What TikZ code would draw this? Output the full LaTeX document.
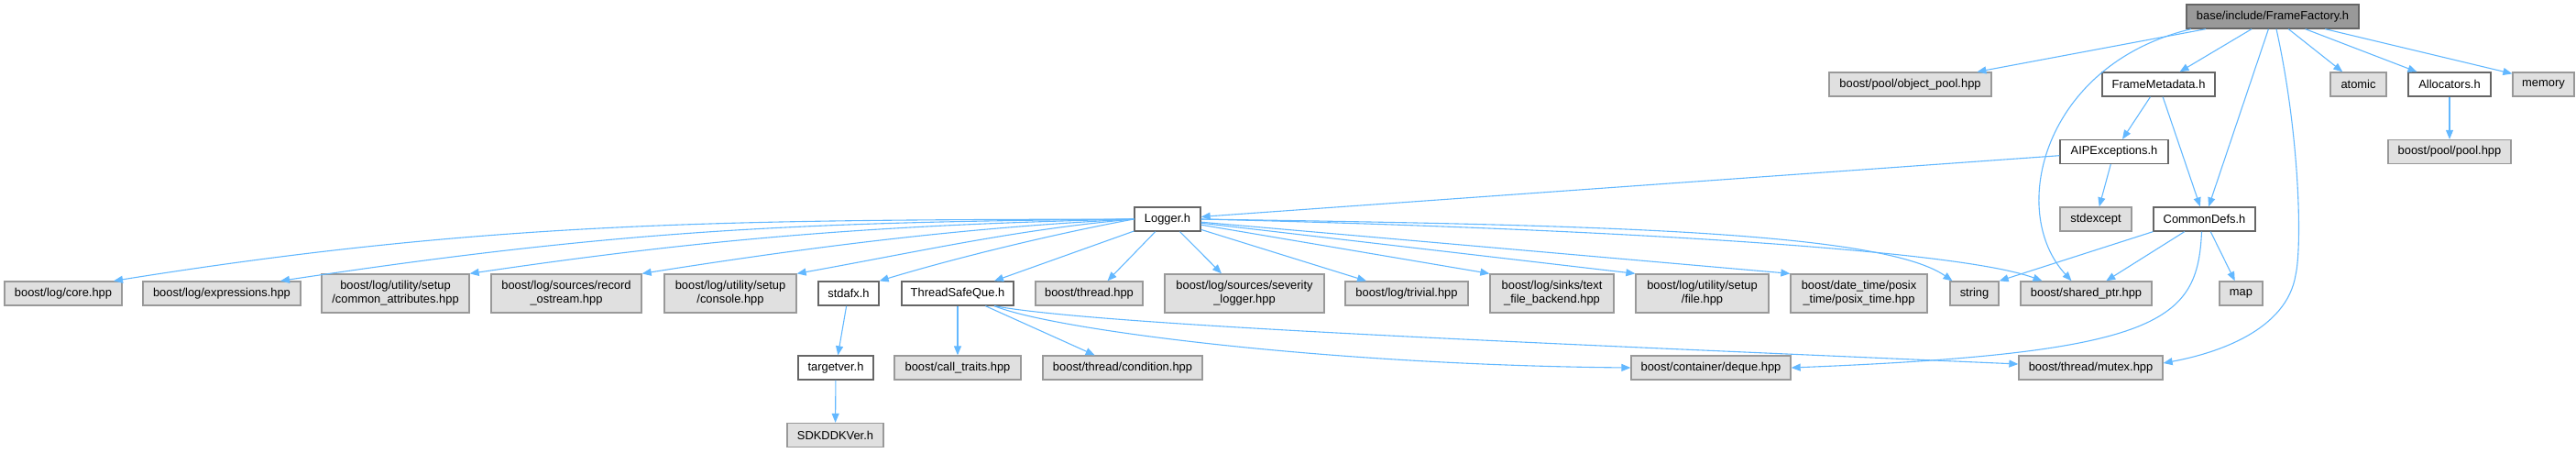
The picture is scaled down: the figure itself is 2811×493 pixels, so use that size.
\documentclass[tikz,border=0pt]{standalone}
\usepackage{fontspec}
\setmainfont{Liberation Sans}
\usetikzlibrary{arrows.meta,positioning}
\definecolor{EdgeBlue}{RGB}{99,184,255}
\definecolor{ExtGray}{RGB}{224,224,224}
\definecolor{ExtBorder}{RGB}{153,153,153}
\definecolor{FileBorder}{RGB}{102,102,102}
\definecolor{RootGray}{RGB}{153,153,153}
\tikzset{
  filenode/.style={draw=FileBorder,fill=white,line width=1.3pt,
    minimum height=26pt,inner sep=0pt,align=center,
    font=\fontsize{12.9}{14.7}\selectfont},
  extnode/.style={filenode,draw=ExtBorder,fill=ExtGray},
  rootnode/.style={filenode,fill=RootGray},
  twoline/.style={minimum height=42pt},
  inc/.style={-{Triangle[length=10pt,width=8pt]},line width=1.1pt,EdgeBlue}
}

\begin{document}
\begin{tikzpicture}[x=1pt,y=-1pt]
          \useasboundingbox (0,0) rectangle (2811,493);
          \node[rootnode,minimum width=188pt] (root) at (2480,18) {base/include/FrameFactory.h};
          \node[extnode,minimum width=177pt] (objpool) at (2084.5,92) {boost/pool/object\_pool.hpp};
          \node[filenode,minimum width=123pt] (framemeta) at (2355.5,92) {FrameMetadata.h};
          \node[extnode,minimum width=61pt] (atomic) at (2573.5,92) {atomic};
          \node[filenode,minimum width=90pt] (allocators) at (2673,92) {Allocators.h};
          \node[extnode,minimum width=67pt] (memory) at (2775.5,92) {memory};
          \node[filenode,minimum width=118pt] (aipexc) at (2307,165.5) {AIPExceptions.h};
          \node[extnode,minimum width=134pt] (poolhpp) at (2673,165.5) {boost/pool/pool.hpp};
          \node[filenode,minimum width=72pt] (logger) at (1274,239) {Logger.h};
          \node[extnode,minimum width=78pt] (stdexcept) at (2287,239) {stdexcept};
          \node[filenode,minimum width=111pt] (commondefs) at (2405.5,239) {CommonDefs.h};
          \node[extnode,minimum width=128pt] (core) at (69,320) {boost/log/core.hpp};
          \node[extnode,minimum width=172pt] (expressions) at (242,320) {boost/log/expressions.hpp};
          \node[extnode,twoline,minimum width=161pt] (commonattr) at (431.5,320) {boost/log/utility/setup\\/common\_attributes.hpp};
          \node[extnode,twoline,minimum width=164pt] (recostream) at (618,320) {boost/log/sources/record\\\_ostream.hpp};
          \node[extnode,twoline,minimum width=144pt] (console) at (797,320) {boost/log/utility/setup\\/console.hpp};
          \node[filenode,minimum width=66pt] (stdafx) at (926,320) {stdafx.h};
          \node[filenode,minimum width=122pt] (tsq) at (1045,320) {ThreadSafeQue.h};
          \node[extnode,minimum width=117pt] (threadhpp) at (1188.5,320) {boost/thread.hpp};
          \node[extnode,twoline,minimum width=174pt] (severity) at (1358,320) {boost/log/sources/severity\\\_logger.hpp};
          \node[extnode,minimum width=134pt] (trivial) at (1535,320) {boost/log/trivial.hpp};
          \node[extnode,twoline,minimum width=135pt] (textsink) at (1693.5,320) {boost/log/sinks/text\\\_file\_backend.hpp};
          \node[extnode,twoline,minimum width=145pt] (filehpp) at (1857.5,320) {boost/log/utility/setup\\/file.hpp};
          \node[extnode,twoline,minimum width=149pt] (posixtime) at (2028.5,320) {boost/date\_time/posix\\\_time/posix\_time.hpp};
          \node[extnode,minimum width=53pt] (string) at (2154.5,320) {string};
          \node[extnode,minimum width=143pt] (sharedptr) at (2276.5,320) {boost/shared\_ptr.hpp};
          \node[extnode,minimum width=47pt] (map) at (2445.5,320) {map};
          \node[filenode,minimum width=82pt] (targetver) at (912,401) {targetver.h};
          \node[extnode,minimum width=138pt] (calltraits) at (1045,401) {boost/call\_traits.hpp};
          \node[extnode,minimum width=174pt] (condition) at (1225,401) {boost/thread/condition.hpp};
          \node[extnode,minimum width=174pt] (deque) at (1867,401) {boost/container/deque.hpp};
          \node[extnode,minimum width=157pt] (mutex) at (2281.5,401) {boost/thread/mutex.hpp};
          \node[extnode,minimum width=105pt] (sdkver) at (911.5,474.5) {SDKDDKVer.h};
          \draw[inc] (root) -- (objpool);
          \draw[inc] (root) -- (framemeta);
          \draw[inc] (root) -- (commondefs);
          \draw[inc] (root) -- (atomic);
          \draw[inc] (root) -- (allocators);
          \draw[inc] (root) -- ([yshift=-2pt]memory.north west);
          \draw[inc] ([xshift=-89pt]root.south) .. controls (2230,70) and (2190,230) .. ([xshift=-16pt]sharedptr.north);
          \draw[inc] ([xshift=4pt]root.south) .. controls (2510,150) and (2512,270) .. (2505,300) .. controls (2495,360) and (2420,385) .. ([yshift=5pt]mutex.east);
          \draw[inc] (framemeta) -- (aipexc);
          \draw[inc] (framemeta) -- (commondefs);
          \draw[inc] (allocators) -- (poolhpp);
          \draw[inc] (aipexc) -- (stdexcept);
          \draw[inc] (aipexc) -- (logger);
          \draw[inc] (commondefs.south west) -- (string.north east);
          \draw[inc] (commondefs) -- (sharedptr);
          \draw[inc] (commondefs) -- (map);
          \draw[inc] ([xshift=-3pt]commondefs.south) .. controls (2398,350) and (2360,385) .. (deque.east);
          \draw[inc] (logger.west) .. controls (800,240) and (540,240) .. ([xshift=55pt]core.north);
          \draw[inc] (logger.west) .. controls (880,242) and (680,250) .. ([xshift=64pt]expressions.north);
          \draw[inc] (logger.west) .. controls (950,245) and (760,262) .. (commonattr.north east);
          \draw[inc] (logger.west) .. controls (1050,248) and (880,270) .. (recostream.north east);
          \draw[inc] (logger.west) .. controls (1110,250) and (1000,275) .. (console.north east);
          \draw[inc] (logger.west) .. controls (1150,255) and (1040,282) .. (stdafx.north east);
          \draw[inc] (logger) -- ([xshift=40pt]tsq.north);
          \draw[inc] (logger) -- ([xshift=20pt]threadhpp.north);
          \draw[inc] (logger) -- ([xshift=-25pt]severity.north);
          \draw[inc] (logger) -- ([xshift=-44pt]trivial.north);
          \draw[inc] (logger) -- (textsink.north west);
          \draw[inc] (logger) -- (filehpp.north west);
          \draw[inc] (logger) -- (posixtime.north west);
          \draw[inc] (logger.east) .. controls (1700,245) and (2050,250) .. ([xshift=-24pt]string.north);
          \draw[inc] (logger.east) .. controls (1700,248) and (2130,270) .. ([xshift=-48pt]sharedptr.north);
          \draw[inc] (stdafx) -- (targetver);
          \draw[inc] (targetver) -- (sdkver);
          \draw[inc] (tsq) -- (calltraits);
          \draw[inc] (tsq) -- (condition);
          \draw[inc] ([xshift=40pt]tsq.south) .. controls (1150,360) and (1450,398) .. (deque.west);
          \draw[inc] ([xshift=40pt]tsq.south) .. controls (1200,355) and (1700,375) .. ([yshift=4pt]mutex.west);
        \end{tikzpicture}
\end{document}
